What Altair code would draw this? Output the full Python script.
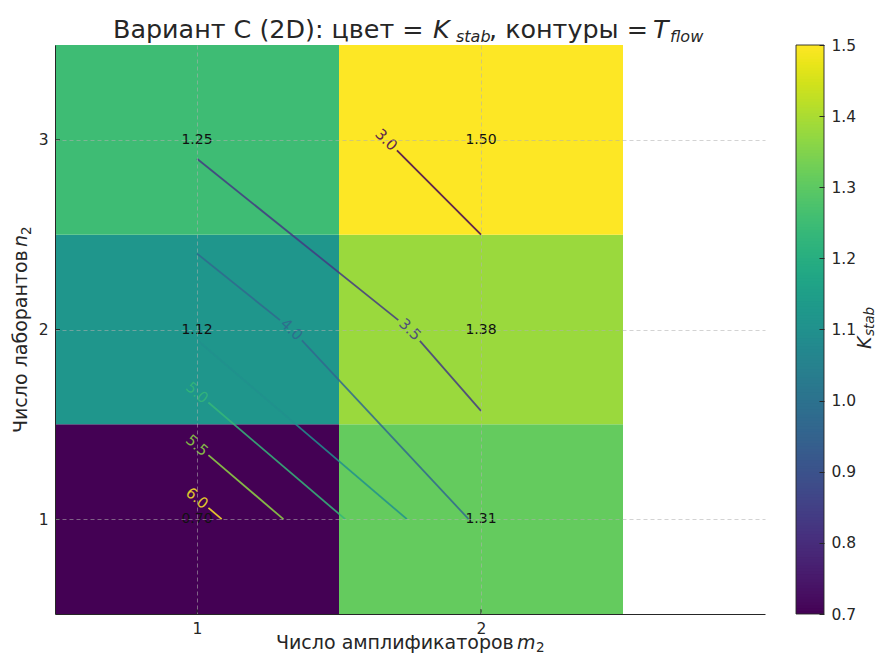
import math
import altair as alt
import numpy as np
import pandas as pd

# ---------------- data ----------------
m_vals = [1, 2]                       # число амплификаторов m2
n_vals = [1, 2, 3]                    # число лаборантов n2
K_stab_m1 = [0.70, 1.12, 1.25]        # K_stab at m2=1, n2=1,2,3
K_stab_m2 = [1.31, 1.38, 1.50]        # K_stab at m2=2, n2=1,2,3
T_flow_m1 = [6.2, 4.4, 3.4]           # T_flow at m2=1, n2=1,2,3
T_flow_m2 = [3.9, 3.2, 2.8]           # T_flow at m2=2, n2=1,2,3
contour_levels = [3.0, 3.5, 4.0, 4.5, 5.0, 5.5, 6.0]
x_ticks = [1, 2]
y_ticks = [1, 2, 3]
cbar_ticks = [0.7, 0.8, 0.9, 1.0, 1.1, 1.2, 1.3, 1.4, 1.5]
title_parts = ["Вариант C (2D): цвет =", "K", "stab", ", контуры =", "T", "flow"]
x_title_parts = ["Число амплификаторов", "m", "2"]
y_title_parts = ["Число лаборантов", "n", "2"]
cbar_title = ["K", "stab"]

# ---------------- layout / style ----------------
W, H = 710, 569
XD = (0.5, 3.0)
YD = (0.5, 3.5)
KD = (0.7, 1.5)
FONT = "DejaVu Sans"
TXT = "#262626"
GAP = 15            # gap (px) cut from a contour line around its label
label_vertex = {3.0: 0, 3.5: 1, 4.0: 1, 5.0: 0, 5.5: 0, 6.0: 0}

K = {}
T = {}
for n, k1, k2, t1, t2 in zip(n_vals, K_stab_m1, K_stab_m2, T_flow_m1, T_flow_m2):
    K[(1, n)], K[(2, n)] = k1, k2
    T[(1, n)], T[(2, n)] = t1, t2

heat = pd.DataFrame([
    {"m": m, "n": n, "m0": m - 0.5, "m1": m + 0.5, "n0": n - 0.5, "n1": n + 0.5, "K": K[(m, n)]}
    for m in m_vals for n in n_vals
])

# ---------------- contour lines (marching squares on the grid) ----------------
grid_edges = []
for m in m_vals:
    for a, b in zip(n_vals[:-1], n_vals[1:]):
        grid_edges.append(((m, a), (m, b)))
for n in n_vals:
    for a, b in zip(m_vals[:-1], m_vals[1:]):
        grid_edges.append(((a, n), (b, n)))


def crossings(level):
    pts = []
    for p0, p1 in grid_edges:
        v0, v1 = T[p0], T[p1]
        if (v0 - level) * (v1 - level) < 0:
            t = (level - v0) / (v1 - v0)
            pts.append((p0[0] + t * (p1[0] - p0[0]), p0[1] + t * (p1[1] - p0[1])))
    pts.sort(key=lambda p: (p[0], -p[1]))
    return pts


def to_px(p):
    return np.array([(p[0] - XD[0]) / (XD[1] - XD[0]) * W, (YD[1] - p[1]) / (YD[1] - YD[0]) * H])


def to_data(q):
    return (XD[0] + q[0] / W * (XD[1] - XD[0]), YD[1] - q[1] / H * (YD[1] - YD[0]))


line_rows, label_rows = [], []
for lev in contour_levels:
    pts = crossings(lev)
    if len(pts) < 2:
        continue
    px = [to_px(p) for p in pts]
    k = label_vertex.get(lev)
    pieces = []
    if k is None:
        pieces = [px]
    else:
        c = px[k]
        dirs = []
        if k > 0:
            d = px[k] - px[k - 1]
            d = d / np.linalg.norm(d)
            dirs.append(d)
            pieces.append(px[:k] + [c - GAP * d])
        if k < len(px) - 1:
            d = px[k + 1] - px[k]
            d = d / np.linalg.norm(d)
            dirs.append(d)
            pieces.append([c + GAP * d] + px[k + 1:])
        avg = sum(dirs)
        ang = math.degrees(math.atan2(avg[1], avg[0]))
        label_rows.append({"x": pts[k][0], "y": pts[k][1], "level": lev, "ang": ang, "txt": f"{lev:.1f}"})
    for i, piece in enumerate(pieces):
        for j, q in enumerate(piece):
            dx, dy = to_data(q)
            line_rows.append({"x": dx, "y": dy, "level": lev, "piece": f"{lev}-{i}", "order": j})

lines_df = pd.DataFrame(line_rows)
labels_df = pd.DataFrame(label_rows)

# ---------------- scales / axes ----------------
XS = alt.Scale(domain=list(XD), nice=False, zero=False)
YS = alt.Scale(domain=list(YD), nice=False, zero=False)
KS = alt.Scale(scheme="viridis", domain=list(KD))
LS = alt.Scale(scheme="viridis", domain=[min(contour_levels), max(contour_levels)])

common_axis = dict(
    grid=True, gridDash=[4, 3], gridColor="#b0b0b0", gridOpacity=0.7, gridWidth=0.8,
    ticks=False, tickSize=0, labelFontSize=15.5, labelColor=TXT, labelFont=FONT,
    domainColor=TXT, domainWidth=1, title=None, zindex=1,
)
XAX = alt.Axis(values=x_ticks, format="d", labelPadding=7.5, **common_axis)
YAX = alt.Axis(values=y_ticks, format="d", labelPadding=7, **common_axis)


def xenc(f):
    return alt.X(f, type="quantitative", scale=XS, axis=XAX, title=None)


def yenc(f):
    return alt.Y(f, type="quantitative", scale=YS, axis=YAX, title=None)


heat_layer = alt.Chart(heat).mark_rect().encode(
    x=xenc("m0"), x2="m1:Q", y=yenc("n0"), y2="n1:Q",
    color=alt.Color("K:Q", scale=KS, legend=None),
)

contour_layer = alt.Chart(lines_df).mark_line(strokeWidth=1.8, opacity=0.85).encode(
    x=xenc("x"), y=yenc("y"),
    color=alt.Color("level:Q", scale=LS, legend=None),
    detail="piece:N", order="order:Q",
)

contour_labels = alt.Chart(labels_df).mark_text(
    font=FONT, fontSize=15, align="center", baseline="middle", opacity=0.85
).encode(
    x=xenc("x"), y=yenc("y"), text="txt:N",
    angle=alt.Angle("ang:Q", scale=None),
    color=alt.Color("level:Q", scale=LS, legend=None),
)

cell_text = alt.Chart(heat).mark_text(
    font=FONT, fontSize=14, color="#111111", align="center", baseline="middle"
).encode(x=xenc("m"), y=yenc("n"), text=alt.Text("K:Q", format=".2f"))

xtick_rules = alt.Chart(pd.DataFrame({"m": x_ticks})).mark_rule(color=TXT, strokeWidth=1).encode(
    x=xenc("m"), y=alt.value(H), y2=alt.value(H - 5)
)
ytick_rules = alt.Chart(pd.DataFrame({"n": y_ticks})).mark_rule(color=TXT, strokeWidth=1).encode(
    y=yenc("n"), x=alt.value(0), x2=alt.value(5)
)

one = pd.DataFrame({"a": [0]})


def txt(text, x, y, size, italic=False, angle=0):
    return alt.Chart(one).mark_text(
        text=text, font=FONT, fontSize=size, fontStyle="italic" if italic else "normal",
        align="left", baseline="alphabetic", color=TXT, angle=angle,
    ).encode(x=alt.value(x), y=alt.value(y))


# title pieces and axis-title pieces (positions relative to the plot origin)
text_layers = [
    txt(title_parts[0], 58, -7.5, 25.4),
    txt(title_parts[1], 378, -7.5, 25.4, italic=True),
    txt(title_parts[2], 401, -3.5, 16, italic=True),
    txt(title_parts[3], 434, -7.5, 25.4),
    txt(title_parts[4], 598, -7.5, 25.4, italic=True),
    txt(title_parts[5], 615, -3.5, 16, italic=True),
    # x axis title
    txt(x_title_parts[0], 221, 604, 19),
    txt(x_title_parts[1], 462, 604, 19, italic=True),
    txt(x_title_parts[2], 481, 606.5, 13.5),
    # y axis title (rotated)
    txt(y_title_parts[0], -28, 388, 19, angle=270),
    txt(y_title_parts[1], -28, 202, 19, italic=True, angle=270),
    txt(y_title_parts[2], -24.5, 190, 13.5, angle=270),
    # colour bar title (rotated)
    txt(cbar_title[0], 816, 304, 19, italic=True, angle=270),
    txt(cbar_title[1], 819, 291, 13.5, italic=True, angle=270),
]

main = alt.layer(
    heat_layer, contour_layer, contour_labels, cell_text, xtick_rules, ytick_rules, *text_layers
).resolve_scale(color="independent")

# ---------------- colour bar ----------------
nb = 200
kk = np.linspace(KD[0], KD[1], nb + 1)
cb = pd.DataFrame({
    "k0": kk[:-1],
    "k1": np.minimum(kk[1:] + (kk[1] - kk[0]) * 0.6, KD[1]),
    "kc": (kk[:-1] + kk[1:]) / 2,
})
CBS = alt.Scale(domain=list(KD), nice=False, zero=False)
CBAX = alt.Axis(
    orient="right", offset=54, values=cbar_ticks, format=".1f", grid=False, domain=False,
    ticks=True, tickSize=5, tickColor=TXT, labelPadding=7, labelFontSize=15.5,
    labelColor=TXT, labelFont=FONT, zindex=1, title=None,
)
bands = alt.Chart(cb).mark_rect().encode(
    x=alt.value(741), x2=alt.value(769),
    y=alt.Y("k0:Q", scale=CBS, axis=CBAX, title=None), y2="k1:Q",
    color=alt.Color("kc:Q", scale=KS, legend=None),
)
outline = alt.Chart(pd.DataFrame({"k0": [KD[0]], "k1": [KD[1]]})).mark_rect(
    fillOpacity=0, stroke=TXT, strokeWidth=0.9
).encode(
    x=alt.value(741), x2=alt.value(769),
    y=alt.Y("k0:Q", scale=CBS, axis=CBAX, title=None), y2="k1:Q",
)
cbar = alt.layer(bands, outline)

chart = alt.layer(main, cbar).resolve_scale(y="independent", color="independent").properties(
    width=W, height=H,
    padding={"left": 47, "top": 37, "right": 111, "bottom": 39},
    autosize=alt.AutoSizeParams(type="none"),
).configure(font=FONT, background="white", view=alt.ViewConfig(stroke=None))

chart.save("out.html", embed_options={"renderer": "svg", "actions": False})
